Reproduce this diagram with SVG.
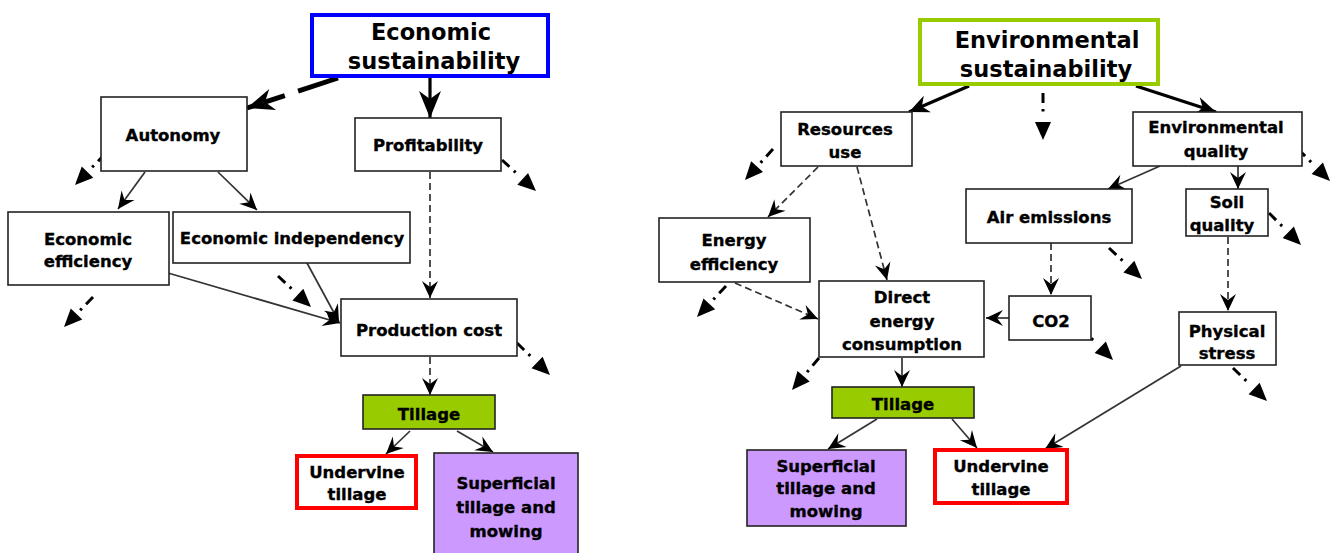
<svg xmlns="http://www.w3.org/2000/svg" width="1334" height="553" viewBox="0 0 1334 553">
<style>
.box{fill:#fff;stroke:#222;stroke-width:1.6}
.t{font-family:"DejaVu Sans",Verdana,sans-serif;font-weight:bold;font-size:16.5px;fill:#000;stroke:#000;stroke-width:0.35;text-anchor:middle}
.title{font-family:"DejaVu Sans",Verdana,sans-serif;font-weight:bold;font-size:22.5px;fill:#000;text-anchor:middle}
.ln{fill:none;stroke:#333;stroke-width:1.7}
.dsh{fill:none;stroke:#333;stroke-width:1.7;stroke-dasharray:7,4}
.thick{fill:none;stroke:#000;stroke-width:3.2}
.dd{fill:none;stroke:#000;stroke-width:3;stroke-dasharray:10,6,2.5,200}
</style>
<defs>
<marker id="barb" markerUnits="userSpaceOnUse" markerWidth="17" markerHeight="16" refX="17" refY="8" orient="auto" overflow="visible">
<path d="M0,0 L17,8 L0,16 L6,8 z" fill="#000"/>
</marker>
<marker id="barbMed" markerUnits="userSpaceOnUse" markerWidth="20" markerHeight="18" refX="20" refY="9" orient="auto" overflow="visible">
<path d="M0,0 L20,9 L0,18 L6,9 z" fill="#000"/>
</marker>
<marker id="barbBig" markerUnits="userSpaceOnUse" markerWidth="27" markerHeight="22" refX="27" refY="11" orient="auto" overflow="visible">
<path d="M0,0 L27,11 L0,22 L8,11 z" fill="#000"/>
</marker>
<marker id="tri" markerUnits="userSpaceOnUse" markerWidth="18" markerHeight="16" refX="18" refY="8" orient="auto" overflow="visible">
<path d="M0,0 L18,8 L0,16 z" fill="#000"/>
</marker>
</defs>

<g id="connectors">
<!-- left -->
<path d="M338,78 L247,108" fill="none" stroke="#000" stroke-width="5" stroke-dasharray="42,14" marker-end="url(#barbBig)"/>
<path class="thick" d="M430,78 L430,118" marker-end="url(#barbBig)"/>
<path class="ln" d="M145,172 L118,209" marker-end="url(#barb)"/>
<path class="ln" d="M218,172 L257,210" marker-end="url(#barb)"/>
<path class="dsh" d="M430,172 L430,298" marker-end="url(#barb)"/>
<path class="ln" d="M168,273 L340,323" marker-end="url(#barb)"/>
<path class="ln" d="M307,263 L339,322" marker-end="url(#barb)"/>
<path class="dsh" d="M430,357 L430,395" marker-end="url(#barb)"/>
<path class="ln" d="M410,431 L386,454" marker-end="url(#barb)"/>
<path class="ln" d="M457,431 L493,452" marker-end="url(#barb)"/>
<path class="dd" d="M105,154 L75,185" marker-end="url(#tri)"/>
<path class="dd" d="M502,160 L536,191" marker-end="url(#tri)"/>
<path class="dd" d="M93,297 L64,327" marker-end="url(#tri)"/>
<path class="dd" d="M278,276 L311,307" marker-end="url(#tri)"/>
<path class="dd" d="M517,343 L550,375" marker-end="url(#tri)"/>
<!-- right -->
<path class="thick" d="M969,86 L909,112" marker-end="url(#barbMed)"/>
<path class="thick" d="M1136,86 L1216,112" marker-end="url(#barbMed)"/>
<path class="dd" d="M1043,93 L1043,140" marker-end="url(#tri)"/>
<path class="dd" d="M773,149 L745,180" marker-end="url(#tri)"/>
<path class="dd" d="M1298,149 L1330,181" marker-end="url(#tri)"/>
<path class="ln" d="M1160,166 L1108,189" marker-end="url(#barb)"/>
<path class="ln" d="M1238,166 L1238,189" marker-end="url(#barb)"/>
<path class="dsh" d="M818,167 L768,217" marker-end="url(#barb)"/>
<path class="dsh" d="M857,167 L887,280" marker-end="url(#barb)"/>
<path class="dsh" d="M1051,243 L1051,295" marker-end="url(#barb)"/>
<path class="dd" d="M1109,248 L1142,279" marker-end="url(#tri)"/>
<path class="dd" d="M1269,213 L1301,245" marker-end="url(#tri)"/>
<path class="dsh" d="M1228,237 L1228,311" marker-end="url(#barb)"/>
<path class="dsh" d="M735,283 L818,319" marker-end="url(#barb)"/>
<path class="dd" d="M726,286 L697,317" marker-end="url(#tri)"/>
<path class="ln" d="M1010,318 L986,318" marker-end="url(#barb)"/>
<path class="dd" d="M1080,327 L1113,360" marker-end="url(#tri)"/>
<path class="ln" d="M902,358 L902,387" marker-end="url(#barb)"/>
<path class="dd" d="M819,358 L792,390" marker-end="url(#tri)"/>
<path class="dd" d="M1233,368 L1267,401" marker-end="url(#tri)"/>
<path class="ln" d="M1181,366 L1045,449" marker-end="url(#barb)"/>
<path class="ln" d="M877,419 L828,449" marker-end="url(#barb)"/>
<path class="ln" d="M952,419 L977,448" marker-end="url(#barb)"/>
</g>

<!-- left nodes -->
<g id="econ-sust">
<rect x="312" y="15" width="236" height="61" fill="#fff" stroke="#0000ff" stroke-width="4"/>
<text class="title" x="431" y="40">Economic</text>
<text class="title" x="434" y="69">sustainability</text>
</g>
<g id="autonomy">
<rect class="box" x="101" y="97" width="146" height="74"/>
<text class="t" x="173" y="141">Autonomy</text>
</g>
<g id="profitability">
<rect class="box" x="355" y="118" width="146" height="53"/>
<text class="t" x="428" y="151">Profitability</text>
</g>
<g id="econ-eff">
<rect class="box" x="8" y="212" width="161" height="73"/>
<text class="t" x="88" y="245">Economic</text>
<text class="t" x="88" y="267">efficiency</text>
</g>
<g id="econ-indep">
<rect class="box" x="173" y="212" width="237" height="51"/>
<text class="t" x="292" y="244">Economic independency</text>
</g>
<g id="prod-cost">
<rect class="box" x="341" y="299" width="176" height="57"/>
<text class="t" x="429" y="336">Production cost</text>
</g>
<g id="tillage-l">
<rect x="363" y="395" width="132" height="34" fill="#99cc00" stroke="#222" stroke-width="1.6"/>
<text class="t" x="429" y="420">Tillage</text>
</g>
<g id="undervine-l">
<rect x="297" y="456" width="119" height="52" fill="#fff" stroke="#ff0000" stroke-width="4"/>
<text class="t" x="357" y="478">Undervine</text>
<text class="t" x="357" y="500">tillage</text>
</g>
<g id="superficial-l">
<rect x="434" y="453" width="144" height="104" fill="#cc99ff" stroke="#222" stroke-width="1.6"/>
<text class="t" x="506" y="489">Superficial</text>
<text class="t" x="506" y="513">tillage and</text>
<text class="t" x="506" y="537">mowing</text>
</g>

<!-- right nodes -->
<g id="env-sust">
<rect x="920" y="20" width="238" height="64" fill="#fff" stroke="#99cc00" stroke-width="4"/>
<text class="title" x="1047" y="48">Environmental</text>
<text class="title" x="1046" y="77">sustainability</text>
</g>
<g id="resources">
<rect class="box" x="781" y="112" width="131" height="54"/>
<text class="t" x="845" y="135">Resources</text>
<text class="t" x="845" y="158">use</text>
</g>
<g id="env-quality">
<rect class="box" x="1133" y="112" width="169" height="54"/>
<text class="t" x="1216" y="133">Environmental</text>
<text class="t" x="1216" y="157">quality</text>
</g>
<g id="air">
<rect class="box" x="966" y="189" width="166" height="54"/>
<text class="t" x="1049" y="223">Air emissions</text>
</g>
<g id="soil">
<rect class="box" x="1186" y="189" width="82" height="47"/>
<text class="t" x="1227" y="208">Soil</text>
<text class="t" x="1222" y="231">quality</text>
</g>
<g id="energy-eff">
<rect class="box" x="659" y="218" width="151" height="64"/>
<text class="t" x="734" y="246">Energy</text>
<text class="t" x="734" y="270">efficiency</text>
</g>
<g id="direct-energy">
<rect class="box" x="819" y="281" width="165" height="76"/>
<text class="t" x="902" y="303">Direct</text>
<text class="t" x="902" y="327">energy</text>
<text class="t" x="902" y="350">consumption</text>
</g>
<g id="co2">
<rect class="box" x="1009" y="296" width="82" height="44"/>
<text class="t" x="1051" y="327">CO2</text>
</g>
<g id="physical">
<rect class="box" x="1179" y="312" width="97" height="53"/>
<text class="t" x="1227" y="337">Physical</text>
<text class="t" x="1227" y="359">stress</text>
</g>
<g id="tillage-r">
<rect x="832" y="387" width="142" height="31" fill="#99cc00" stroke="#222" stroke-width="1.6"/>
<text class="t" x="903" y="410">Tillage</text>
</g>
<g id="superficial-r">
<rect x="747" y="450" width="159" height="76" fill="#cc99ff" stroke="#222" stroke-width="1.6"/>
<text class="t" x="826" y="472">Superficial</text>
<text class="t" x="826" y="494">tillage and</text>
<text class="t" x="826" y="517">mowing</text>
</g>
<g id="undervine-r">
<rect x="935" y="450" width="132" height="53" fill="#fff" stroke="#ff0000" stroke-width="4"/>
<text class="t" x="1001" y="472">Undervine</text>
<text class="t" x="1001" y="495">tillage</text>
</g>
</svg>
